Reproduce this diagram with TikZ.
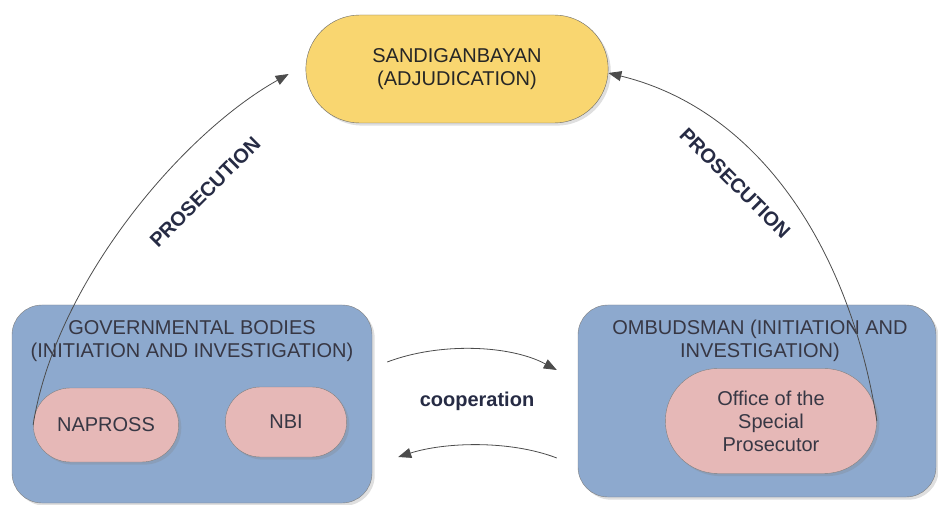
\documentclass[tikz,border=0pt]{standalone}
\usepackage{fontspec}
\setmainfont{Liberation Sans}
\usetikzlibrary{shapes.misc,shadows,arrows.meta}
\definecolor{courtyellow}{RGB}{249,214,112}
\definecolor{bodyblue}{RGB}{141,169,206}
\definecolor{unitpink}{RGB}{230,184,183}
\definecolor{inkgrey}{RGB}{55,55,68}
\definecolor{inknavy}{RGB}{38,43,68}
\begin{document}
\begin{tikzpicture} [x=1pt,y=-1pt,
  every node/.style={font=\fontsize{20}{23}\selectfont, text=inkgrey},
  court/.style={rounded rectangle, draw=black!60, fill=courtyellow, minimum width=309pt, minimum height=108pt, align=center, text=black!85, drop shadow={opacity=.25}},
  agency/.style={rectangle, rounded corners=30pt, draw=black!50, fill=bodyblue, drop shadow={opacity=.25}},
  unit/.style={rounded rectangle, draw=black!50, fill=unitpink, align=center, drop shadow={opacity=.25}},
  flow/.style={draw=black!70, line width=.8pt, -{Triangle[length=13pt,width=10pt]}},
  tag/.style={font=\bfseries\fontsize{20}{23}\selectfont, text=inknavy}]
\useasboundingbox (0,0) rectangle (938,505);
\node[court] (court) at (457,69) {SANDIGANBAYAN\\ (ADJUDICATION)};
\node[agency, minimum width=360pt, minimum height=198pt] (gov) at (192,404) {};
\node[agency, minimum width=358pt, minimum height=192pt] (omb) at (757,401) {};
\node[align=center] (govtitle) at (192,341) {GOVERNMENTAL BODIES\\(INITIATION AND INVESTIGATION)};
\node[align=center] (ombtitle) at (760,341) {OMBUDSMAN (INITIATION AND\\INVESTIGATION)};
\node[unit, minimum width=152pt, minimum height=74pt] (napross) at (106,425) {NAPROSS};
\node[unit, minimum width=128pt, minimum height=70pt] (nbi) at (286,422) {NBI};
\node[unit, minimum width=218pt, minimum height=105pt] (osp) at (771,421) {Office of the\\Special\\Prosecutor};
\node[tag] (coop) at (477,401) {cooperation};
\node[tag, rotate=45] (prosleft) at (205,192) {PROSECUTION};
\node[tag, rotate=-45] (prosright) at (735,183) {PROSECUTION};
\coordinate (coopA) at ([shift={(15,-42)}]gov.east);
\coordinate (coopB) at ([shift={(-21,-31)}]omb.west);
\coordinate (coopC) at ([shift={(-21,57)}]omb.west);
\coordinate (coopD) at ([shift={(26,53)}]gov.east);
\draw[flow] (napross.west) .. controls (55,285) and (180,135) .. ([shift={(-17,5)}]court.west);
\draw[flow] (osp.east) .. controls (850,250) and (760,110) .. ([shift={(0,4)}]court.east);
\draw[flow] (coopA) .. controls (440,342) and (510,345) .. (coopB);
\draw[flow] (coopC) .. controls (510,440) and (445,442) .. (coopD);
\end{tikzpicture}
\end{document}
